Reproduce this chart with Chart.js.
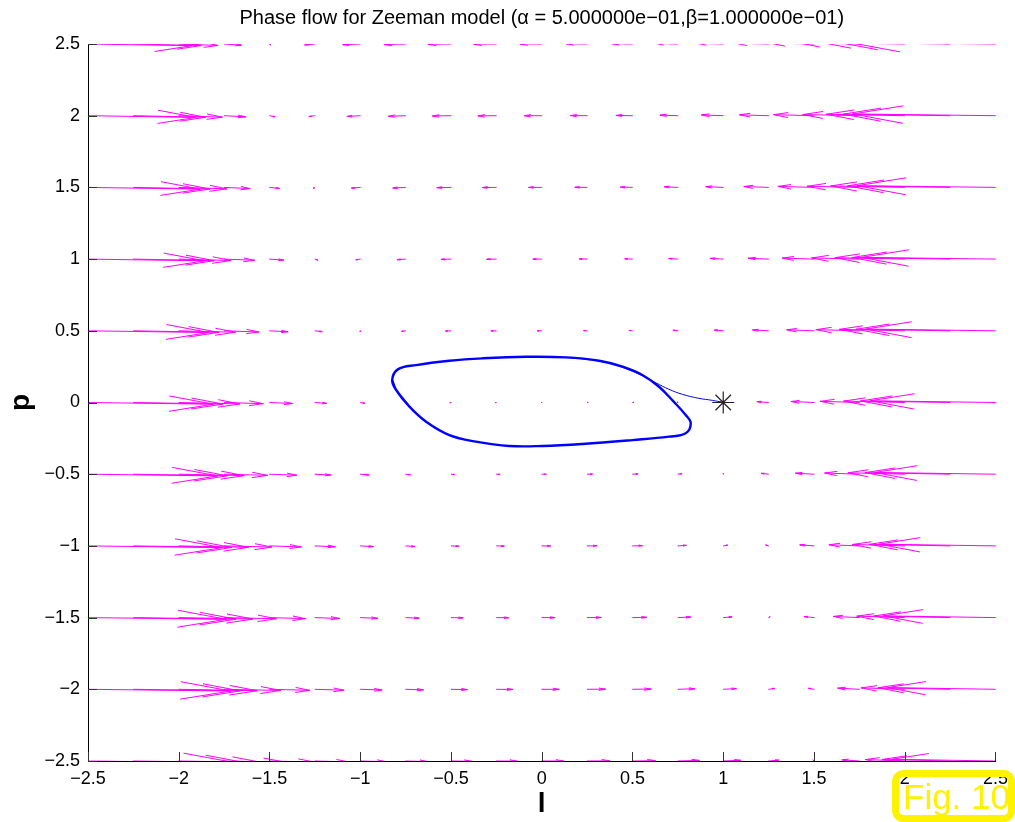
<!DOCTYPE html>
<html>
<head>
<meta charset="utf-8">
<title>Phase flow for Zeeman model</title>
<script src="https://cdn.jsdelivr.net/npm/chart.js@4.4.1/dist/chart.umd.min.js"></script>
<style>
  html, body { margin: 0; padding: 0; background: #fff; }
  #wrap { position: relative; width: 1015px; height: 822px; }
</style>
</head>
<body>
<div id="wrap"><canvas id="phase"></canvas></div>
<script>
// quiver grid: l along x, p along y
const lGrid = [-2.5, -2.25, -2, -1.75, -1.5, -1.25, -1, -0.75, -0.5, -0.25, 0, 0.25, 0.5, 0.75, 1, 1.25, 1.5, 1.75, 2, 2.25, 2.5];
const pGrid = [-2.5, -2, -1.5, -1, -0.5, 0, 0.5, 1, 1.5, 2, 2.5];
// arrow length along l on the row p = 0 (one per column, axis units)
const arrowL = [0.690, 0.493, 0.336, 0.215, 0.126, 0.064, 0.024, 0.002, -0.006, -0.005, 0, 0.005, 0.006, -0.002, -0.024, -0.064, -0.126, -0.215, -0.336, -0.493, -0.690];
// extra length along l for each row (higher rows lean to the left)
const rowShift = [0.120, 0.096, 0.072, 0.048, 0.024, 0, -0.024, -0.048, -0.072, -0.096, -0.120];
// arrow length along p, one per column (very small)
const arrowP = [-0.012, -0.011, -0.010, -0.008, -0.007, -0.006, -0.005, -0.004, -0.002, -0.001, 0, 0.001, 0.002, 0.004, 0.005, 0.006, 0.007, 0.008, 0.010, 0.011, 0.012];

// limit cycle, counter clockwise, runs a bit past its start so the join is smooth
const cycleL = [-0.824, -0.802, -0.729, -0.637, -0.509, -0.362, -0.179, 0.004, 0.224, 0.499, 0.701, 0.793, 0.821, 0.793, 0.727, 0.646, 0.554, 0.445, 0.316, 0.133, -0.087, -0.326, -0.509, -0.692, -0.793, -0.824, -0.802, -0.729];
const cycleP = [0.157, 0.087, -0.029, -0.134, -0.227, -0.273, -0.303, -0.303, -0.289, -0.262, -0.238, -0.215, -0.145, -0.087, 0.006, 0.110, 0.192, 0.250, 0.291, 0.315, 0.319, 0.308, 0.291, 0.261, 0.231, 0.157, 0.087, -0.029];
// transient from the start point into the cycle
const transL = [1.0, 0.940, 0.866, 0.775, 0.701, 0.628, 0.554, 0.481, 0.408, 0.335, 0.220, 0.133];
const transP = [0.0, 0.015, 0.029, 0.057, 0.092, 0.138, 0.187, 0.227, 0.261, 0.285, 0.305, 0.315];
const startL = [1];
const startP = [0];

const tickValues = [-2.5, -2, -1.5, -1, -0.5, 0, 0.5, 1, 1.5, 2, 2.5];
const titleText = 'Phase flow for Zeeman model (\u03b1 = 5.000000e\u221201,\u03b2=1.000000e\u221201)';

const FONT = '"Liberation Sans", Arial, Helvetica, sans-serif';
const HEAD_BACK = 0.35, HEAD_SIDE = 0.22;

// build quiver as one broken line: shaft, gap, barb-head-barb, gap
const quiver = [];
pGrid.forEach((p, i) => {
  lGrid.forEach((l, j) => {
    const u = arrowL[j] + rowShift[i];
    const v = arrowP[j];
    const hx = l + u, hy = p + v;
    quiver.push({x: l, y: p}, {x: hx, y: hy}, {x: hx, y: null});
    quiver.push({x: hx - HEAD_BACK * (u + HEAD_SIDE * v), y: hy - HEAD_BACK * (v - HEAD_SIDE * u)});
    quiver.push({x: hx, y: hy});
    quiver.push({x: hx - HEAD_BACK * (u - HEAD_SIDE * v), y: hy - HEAD_BACK * (v + HEAD_SIDE * u)});
    quiver.push({x: hx, y: null});
  });
});

const toPts = (xs, ys) => xs.map((x, i) => ({x: x, y: ys[i]}));

// tick marks pointing into the axes + title centred over the plot box, like matlab
const axesDecor = {
  id: 'axesDecor',
  afterDraw(chart) {
    const {ctx, chartArea: a, scales: {x, y}} = chart;
    ctx.save();
    ctx.strokeStyle = '#333';
    ctx.lineWidth = 1;
    x.ticks.forEach((t, i) => {
      const px = Math.round(x.getPixelForTick(i)) + 0.5;
      ctx.beginPath(); ctx.moveTo(px, a.bottom); ctx.lineTo(px, a.bottom - 9); ctx.stroke();
    });
    y.ticks.forEach((t, i) => {
      const py = Math.round(y.getPixelForTick(i)) + 0.5;
      ctx.beginPath(); ctx.moveTo(a.left, py); ctx.lineTo(a.left + 9, py); ctx.stroke();
    });
    ctx.fillStyle = '#000';
    ctx.font = '20px ' + FONT;
    ctx.textAlign = 'center';
    ctx.textBaseline = 'middle';
    ctx.fillText(titleText, (a.left + a.right) / 2, 18);
    ctx.restore();
  }
};

// yellow "Fig. 10" tag in the corner
const figTag = {
  id: 'figTag',
  afterDraw(chart) {
    const ctx = chart.ctx;
    ctx.save();
    ctx.strokeStyle = '#fff200';
    ctx.lineWidth = 7;
    ctx.beginPath();
    ctx.roundRect(895.5, 773.5, 116, 45, 8);
    ctx.stroke();
    ctx.fillStyle = '#fff200';
    ctx.font = '35px ' + FONT;
    ctx.textBaseline = 'alphabetic';
    ctx.fillText('Fig. 10', 903, 809);
    ctx.restore();
  }
};

const tickFmt = (v) => String(v).replace('-', '\u2212');

new Chart(document.getElementById('phase'), {
  type: 'scatter',
  data: {
    datasets: [
      {
        label: 'start',
        data: toPts(startL, startP),
        pointStyle: 'star',
        pointRadius: 11,
        borderColor: '#222',
        borderWidth: 1.2,
        backgroundColor: '#222'
      },
      {
        label: 'cycle',
        data: toPts(cycleL, cycleP),
        showLine: true,
        borderColor: '#0000ff',
        borderWidth: 2.4,
        pointRadius: 0,
        tension: 0.4
      },
      {
        label: 'transient',
        data: toPts(transL, transP),
        showLine: true,
        borderColor: '#0000ff',
        borderWidth: 1,
        pointRadius: 0,
        tension: 0.4
      },
      {
        label: 'flow',
        data: quiver,
        showLine: true,
        spanGaps: false,
        clip: { left: 1, right: 1, top: 0, bottom: 0 },
        borderColor: '#ff00ff',
        borderWidth: 1,
        borderCapStyle: 'round',
        pointRadius: 0,
        tension: 0
      }
    ]
  },
  options: {
    responsive: true,
    maintainAspectRatio: false,
    animation: false,
    events: [],
    layout: { padding: { left: 0, right: 16, top: 44, bottom: 0 } },
    plugins: {
      legend: { display: false },
      tooltip: { enabled: false },
      title: { display: false }
    },
    scales: {
      x: {
        type: 'linear',
        min: -2.5,
        max: 2.5,
        afterBuildTicks: (s) => { s.ticks = tickValues.map(v => ({value: v})); },
        afterFit: (s) => { s.height = 61; },
        grid: { display: false, drawTicks: false },
        border: { display: true, color: '#000', width: 1, z: 1 },
        ticks: { color: '#000', padding: 7, font: { family: FONT, size: 18 }, callback: tickFmt, maxRotation: 0 },
        title: { display: true, text: 'l', color: '#000', font: { family: FONT, size: 28, weight: 'bold' }, padding: { top: 0, bottom: 1 } }
      },
      y: {
        type: 'linear',
        min: -2.5,
        max: 2.5,
        afterBuildTicks: (s) => { s.ticks = tickValues.map(v => ({value: v})); },
        afterFit: (s) => { s.width = 88; },
        grid: { display: false, drawTicks: false },
        border: { display: true, color: '#000', width: 1, z: 1 },
        ticks: { color: '#000', padding: 8, font: { family: FONT, size: 18 }, callback: tickFmt },
        title: { display: true, text: 'p', color: '#000', font: { family: FONT, size: 28, weight: 'bold' }, padding: { top: 4, bottom: 0 } }
      }
    }
  },
  plugins: [axesDecor, figTag]
});
</script>
</body>
</html>
